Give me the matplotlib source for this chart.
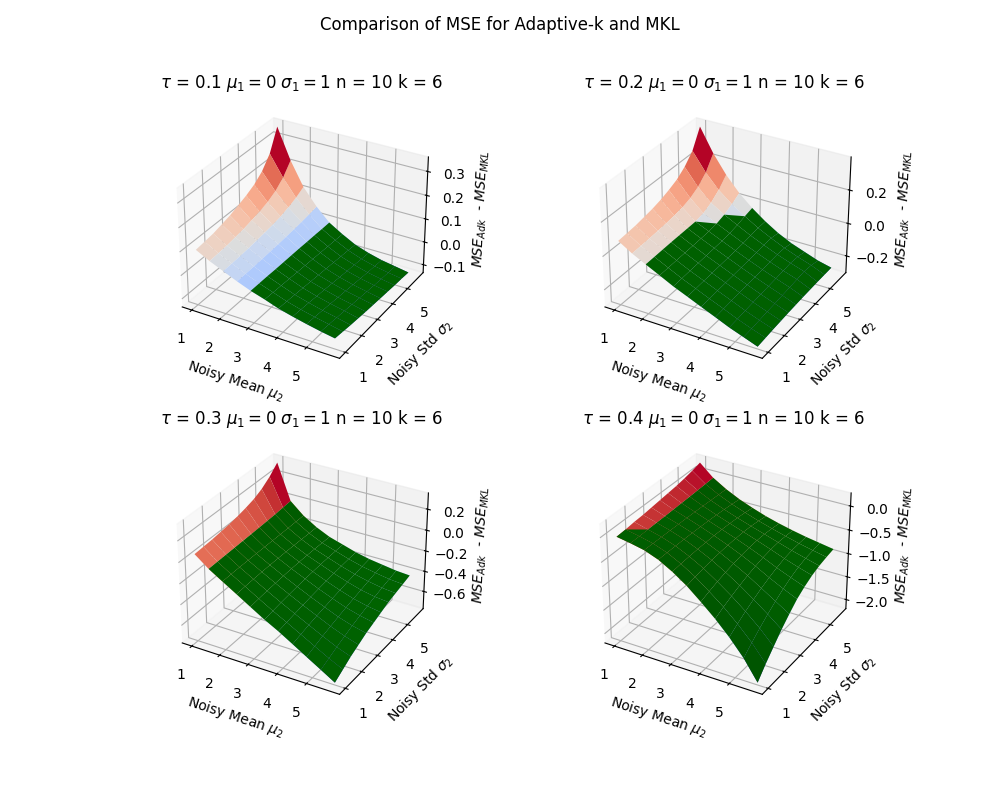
import numpy as np
import matplotlib
matplotlib.use("Agg")
import matplotlib.pyplot as plt
from matplotlib import cm

# grid of noisy mean (mu2) and noisy std (sigma2)
mu2 = [1.0, 1.48, 1.95, 2.43, 2.9, 3.38, 3.85, 4.33, 4.8, 5.28, 5.75]
sigma2 = [1.0, 1.48, 1.95, 2.43, 2.9, 3.38, 3.85, 4.33, 4.8, 5.28, 5.75]
axis_ticks = [1, 2, 3, 4, 5]

taus = [0.1, 0.2, 0.3, 0.4]

# MSE_Adk - MSE_MKL, rows = sigma2, columns = mu2
diff_tau01 = [
    [0.100, 0.070, 0.045, 0.020, -0.002, -0.020, -0.040, -0.055, -0.068, -0.080, -0.090],
    [0.105, 0.073, 0.047, 0.021, -0.002, -0.022, -0.042, -0.058, -0.071, -0.083, -0.095],
    [0.110, 0.076, 0.049, 0.022, -0.002, -0.024, -0.045, -0.061, -0.075, -0.087, -0.100],
    [0.120, 0.082, 0.052, 0.024, -0.003, -0.026, -0.048, -0.065, -0.079, -0.091, -0.104],
    [0.130, 0.088, 0.056, 0.026, -0.003, -0.028, -0.051, -0.068, -0.083, -0.095, -0.108],
    [0.145, 0.097, 0.061, 0.028, -0.003, -0.030, -0.054, -0.072, -0.087, -0.099, -0.111],
    [0.160, 0.107, 0.066, 0.031, -0.003, -0.032, -0.057, -0.076, -0.091, -0.103, -0.114],
    [0.180, 0.120, 0.073, 0.034, -0.004, -0.034, -0.060, -0.080, -0.095, -0.107, -0.117],
    [0.210, 0.140, 0.085, 0.038, -0.004, -0.036, -0.063, -0.083, -0.099, -0.110, -0.120],
    [0.260, 0.172, 0.100, 0.043, -0.005, -0.038, -0.066, -0.087, -0.102, -0.113, -0.122],
    [0.350, 0.220, 0.120, 0.050, -0.005, -0.040, -0.070, -0.090, -0.105, -0.115, -0.125],
]

diff_tau02 = [
    [0.080, 0.030, -0.010, -0.050, -0.090, -0.125, -0.160, -0.195, -0.230, -0.260, -0.290],
    [0.085, 0.033, -0.008, -0.048, -0.087, -0.122, -0.157, -0.191, -0.226, -0.257, -0.285],
    [0.090, 0.036, -0.006, -0.046, -0.084, -0.119, -0.153, -0.187, -0.221, -0.252, -0.280],
    [0.100, 0.040, -0.004, -0.044, -0.081, -0.116, -0.150, -0.183, -0.216, -0.247, -0.276],
    [0.110, 0.045, -0.003, -0.042, -0.078, -0.113, -0.147, -0.180, -0.212, -0.243, -0.272],
    [0.125, 0.052, -0.002, -0.040, -0.075, -0.110, -0.144, -0.177, -0.208, -0.238, -0.269],
    [0.145, 0.062, -0.001, -0.037, -0.072, -0.107, -0.141, -0.174, -0.204, -0.233, -0.266],
    [0.170, 0.080, 0.010, -0.030, -0.066, -0.103, -0.137, -0.170, -0.200, -0.228, -0.264],
    [0.210, 0.110, 0.035, -0.015, -0.056, -0.097, -0.132, -0.166, -0.195, -0.222, -0.262],
    [0.270, 0.160, 0.075, 0.010, -0.042, -0.091, -0.131, -0.168, -0.199, -0.227, -0.261],
    [0.380, 0.240, 0.130, 0.040, -0.030, -0.090, -0.140, -0.180, -0.210, -0.240, -0.260],
]

diff_tau03 = [
    [0.060, -0.040, -0.120, -0.200, -0.280, -0.360, -0.430, -0.510, -0.590, -0.670, -0.750],
    [0.065, -0.038, -0.118, -0.195, -0.272, -0.348, -0.417, -0.490, -0.563, -0.635, -0.700],
    [0.070, -0.036, -0.117, -0.192, -0.265, -0.337, -0.404, -0.471, -0.537, -0.600, -0.650],
    [0.080, -0.034, -0.117, -0.190, -0.260, -0.328, -0.392, -0.454, -0.515, -0.568, -0.610],
    [0.090, -0.032, -0.117, -0.189, -0.256, -0.320, -0.381, -0.439, -0.494, -0.538, -0.570],
    [0.105, -0.030, -0.118, -0.189, -0.253, -0.313, -0.371, -0.425, -0.474, -0.512, -0.540],
    [0.125, -0.028, -0.119, -0.190, -0.252, -0.308, -0.362, -0.412, -0.456, -0.488, -0.510],
    [0.150, -0.025, -0.120, -0.192, -0.252, -0.304, -0.354, -0.400, -0.439, -0.466, -0.480],
    [0.190, -0.022, -0.120, -0.195, -0.254, -0.302, -0.348, -0.389, -0.421, -0.446, -0.460],
    [0.250, -0.016, -0.120, -0.198, -0.257, -0.301, -0.343, -0.379, -0.405, -0.428, -0.440],
    [0.330, -0.010, -0.120, -0.200, -0.260, -0.300, -0.340, -0.370, -0.390, -0.410, -0.420],
]

diff_tau04 = [
    [-0.020, -0.070, -0.130, -0.240, -0.400, -0.600, -0.840, -1.100, -1.390, -1.730, -2.150],
    [-0.010, -0.068, -0.135, -0.240, -0.385, -0.565, -0.780, -1.010, -1.270, -1.570, -1.920],
    [0.010, -0.066, -0.140, -0.242, -0.375, -0.535, -0.725, -0.935, -1.165, -1.425, -1.720],
    [0.020, -0.064, -0.145, -0.245, -0.368, -0.512, -0.680, -0.865, -1.070, -1.290, -1.520],
    [0.040, -0.062, -0.150, -0.250, -0.365, -0.495, -0.642, -0.805, -0.985, -1.170, -1.350],
    [0.060, -0.058, -0.155, -0.258, -0.366, -0.484, -0.612, -0.755, -0.912, -1.060, -1.190],
    [0.080, -0.054, -0.162, -0.268, -0.372, -0.480, -0.592, -0.716, -0.850, -0.970, -1.080],
    [0.100, -0.050, -0.170, -0.280, -0.382, -0.482, -0.582, -0.690, -0.800, -0.900, -0.990],
    [0.130, -0.045, -0.180, -0.296, -0.398, -0.494, -0.585, -0.678, -0.770, -0.852, -0.930],
    [0.170, -0.038, -0.190, -0.316, -0.420, -0.518, -0.604, -0.686, -0.762, -0.828, -0.890],
    [0.220, -0.030, -0.200, -0.340, -0.450, -0.550, -0.630, -0.700, -0.760, -0.810, -0.860],
]

diffs = [diff_tau01, diff_tau02, diff_tau03, diff_tau04]


def main():
    X, Y = np.meshgrid(mu2, sigma2)
    fig = plt.figure(figsize=(10, 8))
    fig.suptitle("Comparison of MSE for Adaptive-k and MKL")

    for i, (tau, diff) in enumerate(zip(taus, diffs)):
        ax = fig.add_subplot(2, 2, i + 1, projection='3d', computed_zorder=False)
        Z = np.array(diff)
        # whole surface in coolwarm, negative part (Adaptive-k better) in green on top
        ax.plot_surface(X, Y, Z, cmap=cm.coolwarm, linewidth=0, antialiased=True)
        Zneg = np.where(Z < 0, Z, np.nan)
        ax.plot_surface(X, Y, Zneg, color='green', linewidth=0, antialiased=True)

        ax.set_xticks(axis_ticks)
        ax.set_yticks(axis_ticks)
        ax.set_title(r'$\tau$ = %.1f $\mu_1 = 0$ $\sigma_1 = 1$ n = 10 k = 6' % tau)
        ax.set_xlabel(r'Noisy Mean $\mu_2$')
        ax.set_ylabel(r'Noisy Std $\sigma_2$')
        ax.set_zlabel(r'$MSE_{Adk}$  - $MSE_{MKL}$')

    plt.savefig("out.png", dpi=100)
    plt.close()


if __name__ == "__main__":
    main()
